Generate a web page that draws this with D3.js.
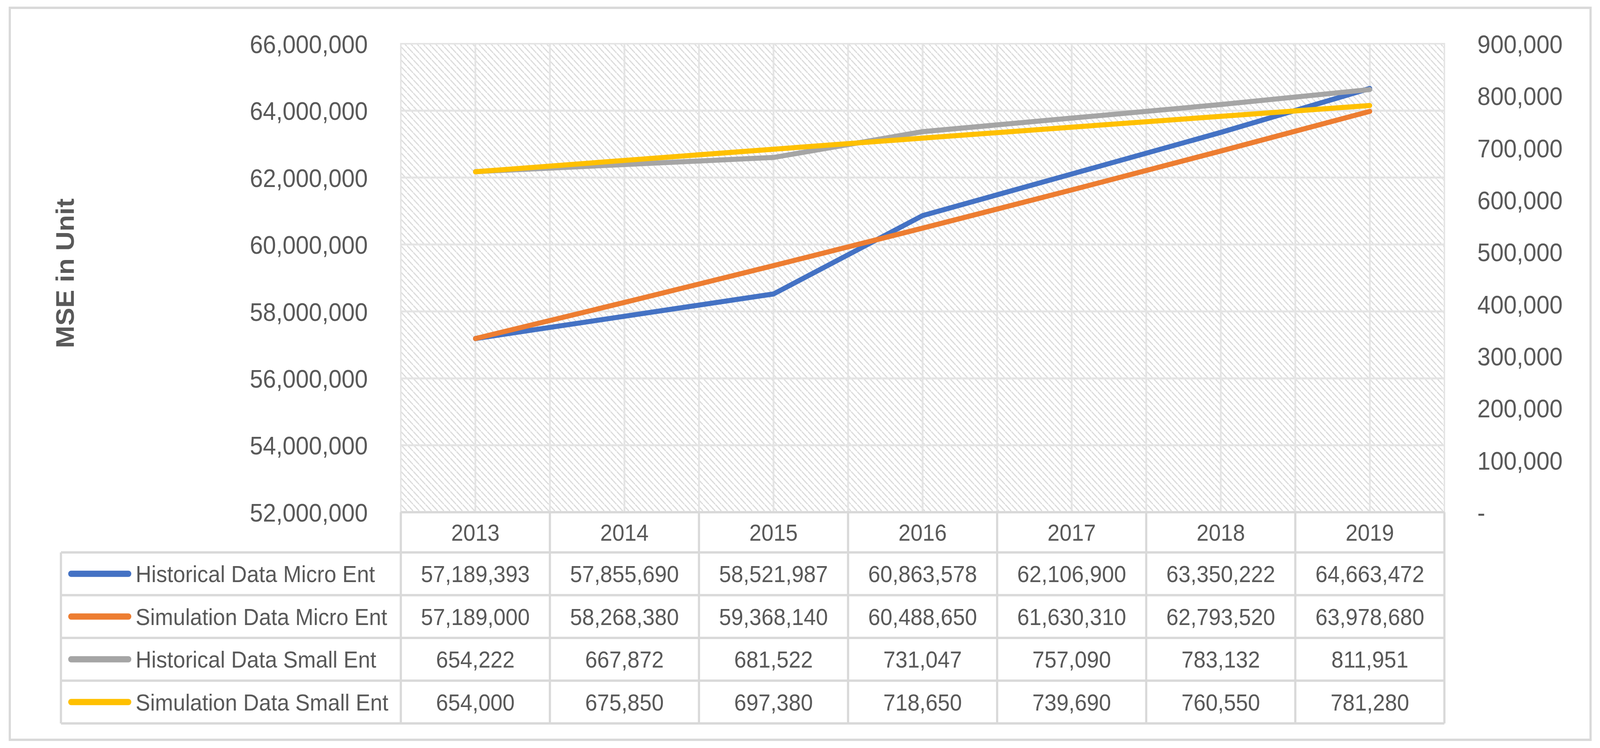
<!DOCTYPE html>
<html>
<head>
<meta charset="utf-8">
<script src="https://cdn.jsdelivr.net/npm/d3@7"></script>
<style>
  html, body { margin: 0; padding: 0; background: #fff; overflow: hidden; }
  svg { display: block; }
  text { font-family: "Liberation Sans", Arial, sans-serif; fill: #595959; }
</style>
</head>
<body>
<script>
const years = ['2013', '2014', '2015', '2016', '2017', '2018', '2019'];

const histMicro = [57189393, 57855690, 58521987, 60863578, 62106900, 63350222, 64663472];
const simMicro = [57189000, 58268380, 59368140, 60488650, 61630310, 62793520, 63978680];
const histSmall = [654222, 667872, 681522, 731047, 757090, 783132, 811951];
const simSmall = [654000, 675850, 697380, 718650, 739690, 760550, 781280];

const leftTicks = [52e6, 54e6, 56e6, 58e6, 60e6, 62e6, 64e6, 66e6];
const rightTicks = [0, 1e5, 2e5, 3e5, 4e5, 5e5, 6e5, 7e5, 8e5, 9e5];

const series = [
  {name: 'Historical Data Micro Ent', values: histMicro, axis: 'left', color: '#4472C4'},
  {name: 'Simulation Data Micro Ent', values: simMicro, axis: 'left', color: '#ED7D31'},
  {name: 'Historical Data Small Ent', values: histSmall, axis: 'right', color: '#A5A5A5'},
  {name: 'Simulation Data Small Ent', values: simSmall, axis: 'right', color: '#FFC000'}
];

const W = 4411, H = 1916;
const plot = {left: 1105, right: 3982, top: 112, bottom: 1312};
const tableLeft = 168;
const headerBottom = 1415;
const rowH = 109.5;
const grid = '#e4e4e4';
const border = '#d9d9d9';

const fmt = d3.format(',');

const x = d3.scaleBand().domain(years).range([plot.left, plot.right]);
const bw = x.bandwidth();
const cx = d => x(d) + bw / 2;
const yL = d3.scaleLinear().domain([52e6, 66e6]).range([plot.bottom, plot.top]);
const yR = d3.scaleLinear().domain([0, 9e5]).range([plot.bottom, plot.top]);

// fit the drawing to the window whatever its real size is
const svg = d3.select('body').append('svg')
  .attr('viewBox', `0 0 ${W} ${H}`)
  .attr('preserveAspectRatio', 'none')
  .style('width', '100vw')
  .style('height', '100vh');

// hatch fill of the plot area
const pat = svg.append('defs').append('pattern')
  .attr('id', 'hatch')
  .attr('patternUnits', 'userSpaceOnUse')
  .attr('width', 17)
  .attr('height', 17);
pat.append('rect').attr('width', 17).attr('height', 17).attr('fill', '#fff');
[[-17, -17, 17, 17], [0, 0, 17, 17], [17, 17, 34, 34], [-8.5, 8.5, 8.5, 25.5], [8.5, -8.5, 25.5, 8.5]]
  .slice(0, 3)
  .forEach(p => {
    pat.append('line')
      .attr('x1', p[0]).attr('y1', p[1]).attr('x2', p[2]).attr('y2', p[3])
      .attr('stroke', '#dadada')
      .attr('stroke-width', 3)
      .attr('stroke-dasharray', '4 3');
  });

svg.append('rect')
  .attr('x', 27).attr('y', 20)
  .attr('width', 4385 - 27).attr('height', 1895 - 20)
  .attr('fill', '#fff')
  .attr('stroke', border)
  .attr('stroke-width', 6);

svg.append('rect')
  .attr('x', plot.left).attr('y', plot.top)
  .attr('width', plot.right - plot.left).attr('height', plot.bottom - plot.top)
  .attr('fill', 'url(#hatch)')
  .attr('stroke', grid)
  .attr('stroke-width', 4);

// gridlines
const vx = [];
years.forEach(d => { vx.push(x(d)); vx.push(cx(d)); });
svg.append('g').selectAll('line').data(vx.slice(1)).join('line')
  .attr('x1', d => d).attr('x2', d => d)
  .attr('y1', plot.top).attr('y2', plot.bottom)
  .attr('stroke', grid).attr('stroke-width', 5);

svg.append('g').selectAll('line').data(leftTicks.slice(1, -1)).join('line')
  .attr('x1', plot.left).attr('x2', plot.right)
  .attr('y1', d => yL(d)).attr('y2', d => yL(d))
  .attr('stroke', grid).attr('stroke-width', 5);

// axes
const axL = svg.append('g')
  .attr('transform', `translate(${plot.left},0)`)
  .call(d3.axisLeft(yL).tickValues(leftTicks).tickFormat(fmt).tickSize(0).tickPadding(91));
const axR = svg.append('g')
  .attr('transform', `translate(${plot.right},0)`)
  .call(d3.axisRight(yR).tickValues(rightTicks).tickFormat(d => d === 0 ? '-' : fmt(d)).tickSize(0).tickPadding(91));
[axL, axR].forEach(a => {
  a.select('.domain').remove();
  a.selectAll('text')
    .attr('font-family', '"Liberation Sans", Arial, sans-serif')
    .attr('font-size', 65)
    .attr('fill', '#595959')
    .attr('dy', '0.36em');
});

svg.append('text')
  .attr('transform', `translate(203,${(plot.top + plot.bottom) / 2 - 12}) rotate(-90)`)
  .attr('text-anchor', 'middle')
  .attr('font-size', 69)
  .attr('font-weight', 'bold')
  .text('MSE in Unit');

// lines
const line = s => d3.line()
  .x((v, i) => cx(years[i]))
  .y(v => s.axis === 'left' ? yL(v) : yR(v));

svg.append('g').selectAll('path').data(series).join('path')
  .attr('d', s => line(s)(s.values))
  .attr('fill', 'none')
  .attr('stroke', s => s.color)
  .attr('stroke-width', 13)
  .attr('stroke-linecap', 'round')
  .attr('stroke-linejoin', 'round');

// data table
const tableBottom = headerBottom + rowH * series.length;
const tb = svg.append('g');

tb.selectAll('line.h').data(d3.range(series.length + 1)).join('line')
  .attr('x1', tableLeft).attr('x2', plot.right)
  .attr('y1', i => headerBottom + i * rowH).attr('y2', i => headerBottom + i * rowH)
  .attr('stroke', border).attr('stroke-width', 6);

tb.append('line')
  .attr('x1', plot.left).attr('x2', plot.right)
  .attr('y1', plot.bottom).attr('y2', plot.bottom)
  .attr('stroke', border).attr('stroke-width', 6);

tb.append('line')
  .attr('x1', tableLeft).attr('x2', tableLeft)
  .attr('y1', headerBottom).attr('y2', tableBottom)
  .attr('stroke', border).attr('stroke-width', 6);

tb.selectAll('line.v').data(years.map(d => x(d)).concat([plot.right])).join('line')
  .attr('x1', d => d).attr('x2', d => d)
  .attr('y1', plot.bottom).attr('y2', tableBottom)
  .attr('stroke', border).attr('stroke-width', 6);

tb.selectAll('text.year').data(years).join('text')
  .attr('x', d => cx(d))
  .attr('y', (plot.bottom + headerBottom) / 2)
  .attr('dy', '0.36em')
  .attr('text-anchor', 'middle')
  .attr('font-size', 60)
  .text(d => d);

series.forEach((s, r) => {
  const yc = headerBottom + rowH * r + rowH / 2;
  tb.append('line')
    .attr('x1', 196).attr('x2', 354)
    .attr('y1', yc).attr('y2', yc)
    .attr('stroke', s.color)
    .attr('stroke-width', 16)
    .attr('stroke-linecap', 'round');
  tb.append('text')
    .attr('x', 374).attr('y', yc)
    .attr('dy', '0.36em')
    .attr('font-size', 60)
    .text(s.name);
  tb.selectAll(null).data(s.values).join('text')
    .attr('x', (v, i) => cx(years[i]))
    .attr('y', yc)
    .attr('dy', '0.36em')
    .attr('text-anchor', 'middle')
    .attr('font-size', 60)
    .text(v => fmt(v));
});
</script>
</body>
</html>
